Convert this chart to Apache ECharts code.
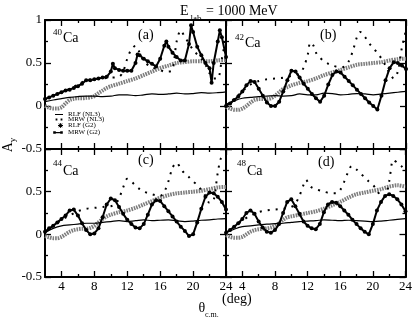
<!DOCTYPE html>
<html><head><meta charset="utf-8">
<script src="https://cdn.jsdelivr.net/npm/echarts@6/dist/echarts.min.js"></script>
<style>html,body{margin:0;padding:0;background:#fff}#c{width:415px;height:319px}</style>
</head><body><div id="c"></div>
<script>
// ---------- tick values ----------
const xMajor = [4, 8, 12, 16, 20, 24];
const xMinor = [6, 10, 14, 18, 22];
const xTickLabels = [4, 8, 12, 16, 20, 24];
const yMajor = [-0.5, 0, 0.5, 1];
const yMinor = [-0.25, 0.25, 0.75];
const yLabelsTop = [-0.5, 0, 0.5, 1];
const yLabelsBottom = [-0.5, 0, 0.5];

// ---------- series names ----------
const seriesNames = ['RLF (NL3)', 'MRW (NL3)', 'RLF (G2)', 'MRW (G2)'];
const nuclei = ['40', '42', '44', '48'];
const panelTags = ['(a)', '(b)', '(c)', '(d)'];

// ---------- angles ----------
const thetaStep1 = [2,3,4,5,6,7,8,9,10,11,12,13,14,15,16,17,18,19,20,21,22,23,24];
const thetaG2 = [2,2.5,3,3.5,4,4.5,5,5.5,6,6.5,7,7.5,8,8.5,9,9.5,10,11,12,13,14,15,16,17,18,19,20,21,22,23,24];
const thetaHalf = [2,2.5,3,3.5,4,4.5,5,5.5,6,6.5,7,7.5,8,8.5,9,9.5,10,10.5,11,11.5,12,12.5,13,13.5,14,14.5,15,15.5,16,16.5,17,17.5,18,18.5,19,19.5,20,20.5,21,21.5,22,22.5,23,23.5,24];

// ---------- RLF (NL3) ----------
const rlfNL3_a = [0.05,0.07,0.085,0.10,0.11,0.115,0.115,0.11,0.115,0.13,0.13,0.12,0.13,0.14,0.135,0.14,0.15,0.14,0.145,0.155,0.15,0.155,0.165];
const rlfNL3_b = [0.02,0.06,0.09,0.10,0.11,0.115,0.12,0.115,0.12,0.14,0.13,0.13,0.15,0.145,0.13,0.135,0.145,0.14,0.13,0.14,0.15,0.16,0.17];
const rlfNL3_c = [0.02,0.07,0.10,0.11,0.12,0.13,0.13,0.14,0.15,0.16,0.15,0.16,0.17,0.16,0.165,0.17,0.16,0.15,0.155,0.165,0.17,0.18,0.185];
const rlfNL3_d = [0.02,0.06,0.09,0.10,0.11,0.12,0.125,0.13,0.14,0.15,0.155,0.16,0.17,0.165,0.16,0.165,0.16,0.155,0.15,0.155,0.165,0.175,0.185];

// ---------- RLF (G2) ----------
const rlfG2_a = [0.0,-0.02,-0.03,-0.03,-0.015,0.03,0.07,0.085,0.09,0.09,0.095,0.10,0.115,0.15,0.18,0.21,0.23,0.26,0.29,0.32,0.36,0.40,0.44,0.47,0.50,0.51,0.52,0.52,0.52,0.53,0.535];
const rlfG2_b = [-0.01,-0.03,-0.045,-0.045,-0.03,0.0,0.04,0.07,0.08,0.08,0.08,0.09,0.12,0.16,0.20,0.22,0.24,0.27,0.29,0.32,0.36,0.39,0.42,0.45,0.48,0.49,0.50,0.51,0.53,0.545,0.55];
const rlfG2_c = [-0.02,-0.035,-0.045,-0.045,-0.03,0.0,0.03,0.05,0.06,0.065,0.065,0.075,0.10,0.14,0.18,0.21,0.23,0.26,0.28,0.31,0.35,0.39,0.43,0.46,0.48,0.49,0.50,0.51,0.53,0.55,0.555];
const rlfG2_d = [-0.01,-0.03,-0.04,-0.04,-0.03,0.0,0.03,0.05,0.06,0.065,0.07,0.08,0.10,0.13,0.17,0.20,0.21,0.23,0.25,0.27,0.30,0.34,0.38,0.43,0.47,0.49,0.51,0.53,0.56,0.575,0.56];

// ---------- MRW (NL3) ----------
const mrwNL3_a_x = [2,3,4,5,6,7,8,9,10,11,11.5,12,12.5,13,13.5,14,15,16,16.5,17,17.5,18,18.5,19,19.5,20,20.5,21,21.5,22,22.5,23,23.5,24];
const mrwNL3_a = [0.08,0.12,0.16,0.20,0.25,0.30,0.31,0.32,0.33,0.34,0.40,0.55,0.66,0.70,0.62,0.52,0.45,0.42,0.40,0.40,0.42,0.75,0.88,0.80,0.73,0.65,0.60,0.55,0.48,0.38,0.32,0.32,0.55,0.80];
const mrwNL3_b_x = [2,3,4,5,6,7,8,9,10,11,11.5,12,12.3,12.7,13,13.5,14,14.5,15,16,16.5,17,17.5,18,18.4,19,19.5,20,20.5,21,21.5,22,22.5,23,23.5,24];
const mrwNL3_b = [0.0,0.08,0.17,0.25,0.29,0.31,0.32,0.33,0.35,0.38,0.45,0.60,0.74,0.70,0.62,0.56,0.52,0.49,0.47,0.45,0.46,0.52,0.64,0.80,0.86,0.80,0.73,0.67,0.62,0.55,0.47,0.38,0.32,0.40,0.68,0.88];
const mrwNL3_c_x = [2,3,4,5,6,7,8,9,10,10.5,11,11.5,12,12.5,13,13.5,14,15,16,16.5,17,17.5,18,18.5,19,19.5,20,20.5,21,21.5,22,22.5,23,23.5,24];
const mrwNL3_c = [0.03,0.10,0.17,0.22,0.27,0.30,0.31,0.32,0.33,0.35,0.42,0.55,0.65,0.62,0.57,0.53,0.50,0.47,0.45,0.50,0.62,0.78,0.84,0.77,0.71,0.67,0.62,0.58,0.52,0.45,0.37,0.40,0.72,0.90,0.90];
const mrwNL3_d_x = [2,3,4,5,6,7,8,9,10,10.5,11,11.5,11.8,12.2,12.5,13,14,15,15.5,16,16.5,17,17.4,18,18.5,19,19.5,20,20.5,21,21.5,22,22.5,23,23.5,24];
const mrwNL3_d = [0.02,0.09,0.16,0.22,0.26,0.28,0.29,0.30,0.32,0.36,0.45,0.58,0.64,0.58,0.55,0.53,0.50,0.48,0.48,0.52,0.62,0.74,0.80,0.76,0.71,0.67,0.62,0.58,0.52,0.45,0.45,0.62,0.87,0.84,0.80,0.74];

// ---------- MRW (G2) ----------
const mrwG2_a_x = [2,2.5,3,3.5,4,4.5,5,5.5,6,6.5,7,7.5,8,8.5,9,9.5,10,10.25,10.5,11,11.5,12,12.5,13,13.25,13.5,14,14.5,15,15.5,16,16.5,16.75,17,17.5,18,18.5,19,19.5,19.75,20,20.5,21,21.5,22,22.25,22.5,23,23.25,23.5,24];
const mrwG2_a = [0.08,0.10,0.12,0.14,0.16,0.18,0.19,0.21,0.23,0.26,0.30,0.30,0.31,0.32,0.33,0.34,0.40,0.49,0.44,0.42,0.41,0.41,0.41,0.50,0.60,0.59,0.55,0.52,0.49,0.46,0.55,0.70,0.75,0.69,0.62,0.57,0.53,0.53,0.72,0.94,0.86,0.69,0.59,0.50,0.44,0.27,0.50,0.75,0.88,0.80,0.57];
const mrwG2_b = [0.0,0.03,0.07,0.11,0.17,0.24,0.29,0.28,0.20,0.12,0.04,0.0,0.0,0.05,0.17,0.30,0.41,0.40,0.33,0.26,0.20,0.14,0.09,0.05,0.12,0.25,0.36,0.40,0.39,0.34,0.29,0.24,0.19,0.14,0.09,0.04,0.0,-0.04,0.12,0.30,0.44,0.51,0.50,0.47,0.43];
const mrwG2_c = [0.03,0.07,0.10,0.14,0.18,0.22,0.28,0.29,0.22,0.13,0.05,0.0,0.01,0.07,0.20,0.35,0.42,0.40,0.32,0.24,0.17,0.12,0.08,0.07,0.12,0.23,0.35,0.40,0.39,0.33,0.27,0.21,0.15,0.09,0.04,-0.02,0.0,0.14,0.30,0.44,0.49,0.48,0.44,0.38,0.29];
const mrwG2_d = [0.02,0.05,0.09,0.13,0.18,0.25,0.28,0.24,0.15,0.08,0.03,0.02,0.05,0.12,0.25,0.38,0.41,0.33,0.24,0.15,0.10,0.07,0.06,0.12,0.26,0.35,0.38,0.37,0.33,0.28,0.23,0.17,0.12,0.07,0.03,0.0,0.12,0.28,0.38,0.45,0.47,0.45,0.41,0.35,0.27];

const panelData = [
  {rlfNL3: rlfNL3_a, rlfG2: rlfG2_a, mrwNL3x: mrwNL3_a_x, mrwNL3: mrwNL3_a, mrwG2x: mrwG2_a_x, mrwG2: mrwG2_a},
  {rlfNL3: rlfNL3_b, rlfG2: rlfG2_b, mrwNL3x: mrwNL3_b_x, mrwNL3: mrwNL3_b, mrwG2x: thetaHalf, mrwG2: mrwG2_b},
  {rlfNL3: rlfNL3_c, rlfG2: rlfG2_c, mrwNL3x: mrwNL3_c_x, mrwNL3: mrwNL3_c, mrwG2x: thetaHalf, mrwG2: mrwG2_c},
  {rlfNL3: rlfNL3_d, rlfG2: rlfG2_d, mrwNL3x: mrwNL3_d_x, mrwNL3: mrwNL3_d, mrwG2x: thetaHalf, mrwG2: mrwG2_d}
];

// ---------- layout ----------
const FONT = 'Liberation Serif';
const grids = [
  {left: 45, top: 20, width: 181, height: 129},
  {left: 226, top: 20, width: 180, height: 129},
  {left: 45, top: 149, width: 181, height: 128},
  {left: 226, top: 149, width: 180, height: 128}
];
const showXLabels = [false, false, true, true];
const yLabelSets = [yLabelsTop, null, yLabelsBottom, null];

function pairs(xs, ys) { return xs.map((x, i) => [x, ys[i]]); }

const xAxes = [], yAxes = [], series = [];
const lineBlack = {color: '#000', width: 2};
const tickStyle = {color: '#000', width: 1.3};

grids.forEach((g, gi) => {
  const xb = {type: 'value', gridIndex: gi, min: 2, max: 24, splitLine: {show: false}};
  xAxes.push(
    Object.assign({}, xb, {position: 'bottom', axisLine: {show: true, onZero: false, lineStyle: lineBlack},
      axisTick: {show: true, inside: true, length: 6, lineStyle: tickStyle, customValues: xMajor},
      axisLabel: {show: showXLabels[gi], customValues: xTickLabels, fontFamily: FONT, fontSize: 13, color: '#000', margin: 3}}),
    Object.assign({}, xb, {position: 'bottom', axisLine: {show: false, onZero: false},
      axisTick: {show: true, inside: true, length: 3, lineStyle: tickStyle, customValues: xMinor},
      axisLabel: {show: false, customValues: xMinor}}),
    Object.assign({}, xb, {position: 'top', axisLine: {show: true, onZero: false, lineStyle: lineBlack},
      axisTick: {show: true, inside: true, length: 6, lineStyle: tickStyle, customValues: xMajor},
      axisLabel: {show: false, customValues: xMajor}}),
    Object.assign({}, xb, {position: 'top', axisLine: {show: false, onZero: false},
      axisTick: {show: true, inside: true, length: 3, lineStyle: tickStyle, customValues: xMinor},
      axisLabel: {show: false, customValues: xMinor}})
  );
  const yb = {type: 'value', gridIndex: gi, min: -0.5, max: 1, splitLine: {show: false}};
  const labs = yLabelSets[gi];
  yAxes.push(
    Object.assign({}, yb, {position: 'left', axisLine: {show: true, onZero: false, lineStyle: lineBlack},
      axisTick: {show: true, inside: true, length: 6, lineStyle: tickStyle, customValues: yMajor},
      axisLabel: {show: !!labs, customValues: labs || yMajor, fontFamily: FONT, fontSize: 13, color: '#000', margin: 3}}),
    Object.assign({}, yb, {position: 'left', axisLine: {show: false, onZero: false},
      axisTick: {show: true, inside: true, length: 3, lineStyle: tickStyle, customValues: yMinor},
      axisLabel: {show: false, customValues: yMinor}}),
    Object.assign({}, yb, {position: 'right', axisLine: {show: true, onZero: false, lineStyle: lineBlack},
      axisTick: {show: true, inside: true, length: 6, lineStyle: tickStyle, customValues: yMajor},
      axisLabel: {show: false, customValues: yMajor}}),
    Object.assign({}, yb, {position: 'right', axisLine: {show: false, onZero: false},
      axisTick: {show: true, inside: true, length: 3, lineStyle: tickStyle, customValues: yMinor},
      axisLabel: {show: false, customValues: yMinor}})
  );
  const d = panelData[gi];
  const xi = gi * 4, yi = gi * 4;
  series.push(
    {name: seriesNames[2], type: 'line', xAxisIndex: xi, yAxisIndex: yi, data: pairs(thetaG2, d.rlfG2),
      smooth: 0.3, symbol: 'none', lineStyle: {color: '#7d7d7d', width: 4, type: [1.6, 1]}, itemStyle: {color: '#7d7d7d'}, z: 2},
    {name: seriesNames[0], type: 'line', xAxisIndex: xi, yAxisIndex: yi, data: pairs(thetaStep1, d.rlfNL3),
      smooth: 0.4, symbol: 'none', lineStyle: {color: '#000', width: 1.2}, itemStyle: {color: '#000'}, z: 3},
    {name: seriesNames[1], type: 'line', xAxisIndex: xi, yAxisIndex: yi, data: pairs(d.mrwNL3x, d.mrwNL3),
      smooth: 0.3, symbol: 'none', lineStyle: {color: '#000', width: 2, type: [2, 6]}, itemStyle: {color: '#000'}, z: 3},
    {name: seriesNames[3], type: 'line', xAxisIndex: xi, yAxisIndex: yi, data: pairs(d.mrwG2x, d.mrwG2),
      symbol: 'circle', symbolSize: 4, showAllSymbol: true, lineStyle: {color: '#000', width: 2}, itemStyle: {color: '#000'}, z: 4}
  );
});

// legend icons in a 10x7 box (tiny corner anchors fix the box)
const anchor = 'M0,0h0.01v0.01h-0.01z M9.99,6.99h0.01v0.01h-0.01z ';
const legendIcons = [
  'path://' + anchor + 'M2,3h8v1.1h-8z',
  'path://' + anchor + 'M2.6,2.6h1.8v1.8h-1.8z M7.6,2.6h1.8v1.8h-1.8z',
  'path://' + anchor + 'M7.1,1h0.8v5h-0.8z M5,3.1h5v0.8h-5z M5.4,1.7L5.9,1.2L9.6,4.9L9.1,5.4z M9.1,1.2L9.6,1.7L5.9,5.4L5.4,4.9z',
  'path://' + anchor + 'M2.8,3h4.4v1.2h-4.4z M0.2,2.2h2.6v2.6h-2.6z M7.2,2.2h2.6v2.6h-2.6z'
];
const legendRows = [114.5, 119.5, 125.5, 132.5];
const legends = seriesNames.map((n, i) => ({
  left: 53, top: legendRows[i] - 3.5, padding: 0, itemWidth: 10, itemHeight: 7, selectedMode: false,
  data: [{name: n, icon: legendIcons[i], itemStyle: {color: '#000'}}],
  textStyle: {fontFamily: FONT, fontSize: 7, color: '#000', lineHeight: 7}
}));

const txt = (x, y, text, size, extra) => ({type: 'text', x: x, y: y, silent: true, z: 100,
  style: Object.assign({text: text, fontFamily: FONT, fontSize: size, fill: '#000', align: 'left', verticalAlign: 'middle'}, extra || {})});

const nucPos = [[53, 33, 63, 38.6], [235, 37.5, 245, 43.5], [53, 163.5, 63, 171], [237, 164, 247, 171.5]];
const tagPos = [[138, 35.5], [320, 35.5], [138, 160.5], [318, 162]];
const graphics = [];
nucPos.forEach((p, i) => {
  graphics.push(txt(p[0], p[1], nuclei[i], 9));
  graphics.push(txt(p[2], p[3], 'Ca', 14));
  graphics.push(txt(tagPos[i][0], tagPos[i][1], panelTags[i], 14));
});
// title
graphics.push(txt(180, 11.5, 'E', 14));
graphics.push(txt(190.5, 18.5, 'lab', 9));
graphics.push(txt(206, 11.5, '= 1000 MeV', 14));
// x axis title
graphics.push(txt(198.5, 308, 'θ', 14));
graphics.push(txt(205, 315, 'c.m.', 8));
graphics.push(txt(222, 299.5, '(deg)', 14));
// y axis title
graphics.push({type: 'text', x: 9, y: 145, rotation: Math.PI / 2, silent: true, z: 100,
  style: {text: '{a|A}{s|y}', fontFamily: FONT, fill: '#000', align: 'center', verticalAlign: 'middle',
    rich: {a: {fontSize: 14, fontFamily: FONT, lineHeight: 16, verticalAlign: 'top'}, s: {fontSize: 9, fontFamily: FONT, lineHeight: 16, verticalAlign: 'bottom'}}}});

const chart = echarts.init(document.getElementById('c'), null, {renderer: 'canvas'});
chart.setOption({
  animation: false,
  backgroundColor: '#fff',
  grid: grids,
  xAxis: xAxes,
  yAxis: yAxes,
  legend: legends,
  series: series,
  graphic: graphics
});
</script></body></html>
